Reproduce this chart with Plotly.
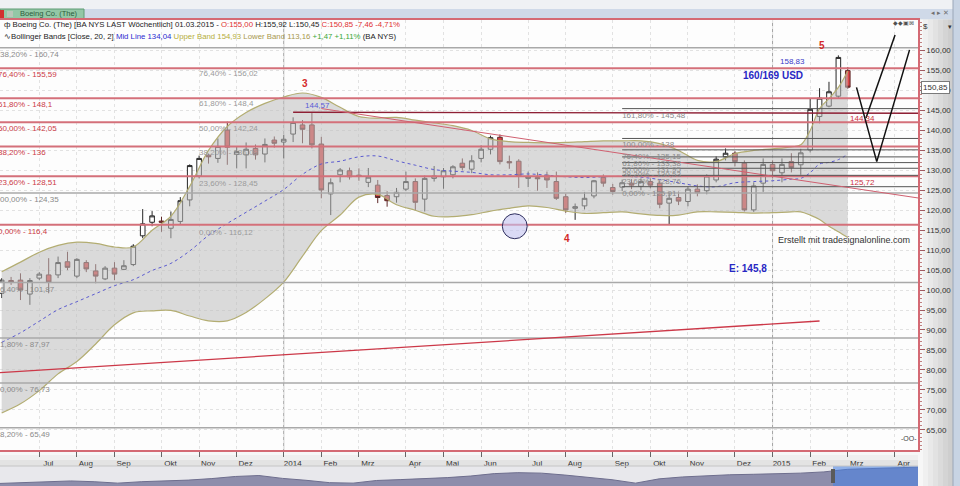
import plotly.graph_objects as go
import pandas as pd

# ---------------- data ----------------
first_week = "2013-06-09"
opens = [99.2, 102.4, 102.5, 99.0,
         103.0, 103.8, 103.8, 107.1, 103.5, 106.9, 104.8, 102.8, 105.5, 105.2,
         106.4, 113.6, 117.0, 117.3, 115.5, 117.2, 122.6, 128.6, 133.8, 133.0,
         140.1, 134.0, 133.9, 135.5, 134.1, 137.6, 137.1, 139.1, 141.4, 141.4,
         136.6, 124.1, 128.9, 129.9, 128.8, 127.0, 126.3, 123.7, 123.4, 125.3,
         127.2, 122.8, 128.0, 128.4, 128.9, 131.8, 130.3, 133.0, 135.3, 138.3,
         132.2, 132.3, 128.0, 128.2, 128.8, 127.2, 123.4, 120.5, 121.1, 123.6,
         128.2, 125.7, 125.8, 126.8, 126.0, 127.2, 126.8, 121.8, 123.2, 122.2,
         125.3, 124.9, 127.6, 133.4, 134.3, 131.8, 120.1, 126.8, 131.5, 129.4,
         132.2, 131.4, 135.1, 143.5, 146.1, 148.6, 155.00]
highs = [103.0, 103.3, 104.2, 103.0,
         104.5, 108.0, 108.4, 109.6, 108.0, 107.5, 106.5, 106.0, 107.0, 107.5,
         111.5, 120.3, 119.8, 118.4, 119.7, 123.3, 131.5, 133.7, 134.2, 138.0,
         142.2, 136.0, 137.0, 136.5, 138.0, 138.5, 138.9, 143.3, 142.6, 144.57,
         138.4, 128.0, 130.6, 130.7, 130.5, 130.6, 127.6, 124.8, 125.6, 129.7,
         128.0, 128.7, 131.1, 130.6, 131.3, 133.0, 133.8, 136.3, 138.7, 139.0,
         133.7, 132.8, 129.7, 129.5, 129.7, 129.7, 124.2, 121.7, 124.6, 127.6,
         129.0, 126.6, 127.7, 127.8, 128.0, 128.0, 127.5, 124.6, 124.7, 126.0,
         126.5, 129.0, 133.5, 135.5, 134.8, 132.5, 127.0, 133.0, 132.5, 133.0,
         134.3, 135.4, 148.1, 150.6, 152.2, 158.83, 155.92]
lows = [98.0, 101.3, 97.5, 96.3,
        102.5, 99.2, 103.0, 105.0, 103.0, 104.5, 101.7, 102.5, 102.5, 105.0,
        106.0, 113.0, 116.0, 114.6, 113.0, 116.5, 121.0, 128.0, 131.7, 131.9,
        131.4, 130.5, 130.5, 132.7, 132.0, 135.7, 133.0, 137.1, 136.8, 135.5,
        123.0, 118.8, 127.0, 127.7, 127.4, 125.8, 121.8, 120.9, 121.9, 124.8,
        120.0, 119.7, 127.2, 125.4, 128.0, 130.0, 129.3, 132.0, 134.0, 131.5,
        130.4, 125.6, 125.8, 124.9, 125.6, 122.6, 119.4, 117.6, 120.2, 123.0,
        125.9, 123.9, 124.8, 125.3, 125.0, 125.5, 120.5, 116.3, 121.3, 121.0,
        123.5, 124.0, 127.0, 132.5, 131.0, 119.7, 119.6, 124.6, 128.0, 127.0,
        129.5, 128.9, 134.5, 141.8, 145.8, 148.0, 150.45]
closes = [102.5, 102.0, 100.0, 102.4,
          104.0, 102.0, 106.9, 105.7, 107.7, 105.3, 103.5, 105.5, 104.0, 106.1,
          111.0, 116.6, 118.6, 117.0, 117.7, 122.4, 131.2, 133.0, 133.4, 136.0,
          135.8, 134.7, 135.3, 133.9, 136.5, 136.8, 137.8, 142.0, 140.3, 136.4,
          125.1, 126.9, 130.1, 128.4, 128.6, 128.3, 123.2, 122.4, 124.5, 127.2,
          122.0, 128.0, 128.6, 129.9, 130.9, 130.7, 132.4, 135.3, 138.2, 132.2,
          131.9, 128.6, 128.4, 127.9, 127.6, 123.0, 120.1, 120.9, 123.0, 127.4,
          126.8, 124.7, 126.9, 126.3, 127.2, 126.3, 121.5, 123.0, 122.3, 125.3,
          124.4, 128.6, 132.8, 134.3, 132.2, 120.1, 126.1, 131.5, 129.9, 131.5,
          130.7, 134.4, 145.3, 148.1, 149.7, 158.31, 150.85]
dates = pd.date_range(first_week, periods=len(closes), freq="7D")

# Bollinger bands (read every 2nd week, weekly at the end)
band_idx = list(range(0, 85, 2)) + [85, 86, 87, 88, 89, 90]
upper_band = [104.6, 107.0, 109.5, 111.2, 112.0, 111.7, 110.8, 110.8, 115.0, 118.5,
              126.0, 135.0, 141.0, 144.5, 146.8, 148.4, 149.4, 148.3, 145.8, 143.5,
              143.1, 143.3, 142.6, 141.9, 141.2, 140.0, 137.9, 137.2, 137.0, 136.9,
              137.0, 137.2, 137.4, 137.4, 137.4, 136.7, 135.0, 132.5, 132.2, 134.2,
              135.0, 135.4, 135.9, 136.4, 140.0, 145.5, 148.0, 150.8, 154.93]
lower_band = [69.2, 71.5, 74.8, 79.0, 82.1, 86.5, 91.3, 94.3, 94.8, 94.9,
              93.5, 92.3, 92.3, 94.4, 97.8, 102.0, 108.5, 114.9, 118.8, 123.3,
              124.0, 121.4, 120.0, 118.5, 118.4, 118.9, 119.8, 120.5, 121.1, 120.7,
              119.8, 119.2, 119.4, 119.6, 119.1, 118.7, 118.8, 119.6, 119.6, 119.5,
              119.3, 119.4, 119.6, 119.6, 118.8, 117.7, 116.0, 114.6, 113.16]
mid_line = [86.9, 89.3, 92.2, 95.1, 97.1, 99.1, 101.1, 102.6, 104.9, 106.7,
            109.8, 113.7, 116.7, 119.5, 122.3, 125.2, 129.0, 131.6, 132.3, 133.4,
            133.6, 132.4, 131.3, 130.2, 129.8, 129.5, 128.9, 128.9, 129.1, 128.8,
            128.4, 128.2, 128.4, 128.5, 128.3, 127.7, 126.9, 126.1, 125.9, 126.9,
            127.2, 127.4, 127.8, 128.0, 129.4, 131.6, 132.0, 132.7, 134.04]
band_dates = [dates[i] for i in band_idx]

month_ticks = ["2013-07-07", "2013-08-04", "2013-09-01", "2013-10-06", "2013-11-03",
               "2013-12-01", "2014-01-05", "2014-02-02", "2014-03-02", "2014-04-06",
               "2014-05-04", "2014-06-01", "2014-07-06", "2014-08-03", "2014-09-07",
               "2014-10-05", "2014-11-02", "2014-12-07", "2015-01-04", "2015-02-01",
               "2015-03-01", "2015-04-05"]
month_labels = ["Jul", "Aug", "Sep", "Okt", "Nov", "Dez", "2014", "Feb", "Mrz", "Apr",
                "Mai", "Jun", "Jul", "Aug", "Sep", "Okt", "Nov", "Dez", "2015", "Feb",
                "Mrz", "Apr"]
year_lines = ["2014-01-05", "2015-01-04"]
price_ticks = [65, 70, 75, 80, 85, 90, 95, 100, 105, 110, 115, 120, 125, 130, 135,
               140, 145, 150, 155, 160]

# Fibonacci sets
fib_red_vals = [155.59, 148.1, 142.05, 136.0, 128.51, 116.4]
fib_red_labels = ["76,40% - 155,59", "61,80% - 148,1", "50,00% - 142,05",
                  "38,20% - 136", "23,60% - 128,51", "0,00% - 116,4"]
fib_gray_vals = [160.74, 124.35, 101.87, 87.97, 76.73, 65.49]
fib_gray_labels = ["138,20% - 160,74", "100,00% - 124,35", "76,40% - 101,87",
                   "61,80% - 87,97", "50,00% - 76,73", "38,20% - 65,49"]
fib_mid_vals = [156.02, 148.4, 142.24, 136.08, 128.45, 116.12]
fib_mid_labels = ["76,40% - 156,02", "61,80% - 148,4", "50,00% - 142,24",
                  "38,20% - 136,08", "23,60% - 128,45", "0,00% - 116,12"]
fib_right_vals = [145.48, 138.0, 135.15, 133.38, 131.95, 130.53, 128.76, 125.91]
fib_right_labels = ["161,80% - 145,48", "100,00% - 138", "76,40% - 135,15",
                    "61,80% - 133,38", "50,00% - 131,95", "38,20% - 130,53",
                    "23,60% - 128,76", "0,00% - 125,91"]

# drawn trend lines (date, price)
trend_high_x = ["2014-01-12", "2015-04-30"]
trend_high_y = [144.57, 144.31]
trend_down_x = ["2014-02-02", "2015-04-30"]
trend_down_y = [145.5, 122.7]
trend_low_x = ["2013-06-01", "2015-02-08"]
trend_low_y = [79.15, 92.25]
scenario_a_x = ["2015-03-07 12:00", "2015-03-22 14:00", "2015-04-16"]
scenario_a_y = [150.8, 132.2, 160.2]
scenario_b_x = ["2015-03-14 14:00", "2015-04-05 05:00"]
scenario_b_y = [143.1, 163.9]

# navigator (overview) series
nav_vals = [2.7, 3.4, 4.3, 5.3, 4.5, 3.0, 4.5, 5.2, 6.2, 7.8,
            10.0, 11.0, 8.0, 6.0, 3.5, 3.0, 5.8, 6.7, 7.4, 8.8,
            10.5, 13.0, 14.0, 13.5, 11.5, 9.4, 6.6, 3.0, 7.5, 9.5,
            11.0, 11.8, 12.3, 12.6, 13.5, 14.8, 17.5, 18.3, 19.0, 19.8]

# ---------------- styling ----------------
FONT = "Liberation Sans, Arial, sans-serif"
W, H = 960, 486
TOP, RIGHT = 20, 42
PW = W - RIGHT
X0, X1 = "2013-06-07 18:00", "2015-04-22 07:00"
Y0, Y1 = 59.92, 167.69
XS, XE = "2013-05-01", "2015-05-20"
LBL_A_X = "2013-06-06 06:00"
LBL_B_X = "2013-06-04 10:00"
LBL_MID_X = "2013-11-03"
LBL_R_X = "2014-09-14"

RED_LINE = "#d4707a"
GRAY_LINE = "#a9a9a9"
BAND_COL = "#b3ad72"


def py(Y):
    return (H - Y) / (H - TOP)


def px(X):
    return X / PW


def hlines(vals, xs, xe):
    xx, yy = [], []
    for v in vals:
        xx += [xs, xe, None]
        yy += [v, v, None]
    return xx, yy


fig = go.Figure()

# Bollinger bands
fig.add_trace(go.Scatter(x=band_dates, y=lower_band, mode="lines",
                         line=dict(color=BAND_COL, width=1.2, shape="spline"),
                         hoverinfo="skip", showlegend=False))
fig.add_trace(go.Scatter(x=band_dates, y=upper_band, mode="lines",
                         line=dict(color=BAND_COL, width=1.2, shape="spline"),
                         fill="tonexty", fillcolor="rgba(190,190,190,0.55)",
                         hoverinfo="skip", showlegend=False))
fig.add_trace(go.Scatter(x=band_dates, y=mid_line, mode="lines",
                         line=dict(color="#5b5bd0", width=1, dash="dot", shape="spline"),
                         hoverinfo="skip", showlegend=False))

# Fib lines
gx, gy = hlines(fib_gray_vals, XS, XE)
fig.add_trace(go.Scatter(x=gx, y=gy, mode="lines", line=dict(color=GRAY_LINE, width=1.5),
                         hoverinfo="skip", showlegend=False))
rx, ry = hlines(fib_red_vals, XS, XE)
fig.add_trace(go.Scatter(x=rx, y=ry, mode="lines", line=dict(color=RED_LINE, width=2),
                         hoverinfo="skip", showlegend=False))
cx, cy = hlines(fib_right_vals, LBL_R_X, XE)
fig.add_trace(go.Scatter(x=cx, y=cy, mode="lines", line=dict(color="#555555", width=1),
                         hoverinfo="skip", showlegend=False))

# trend lines
fig.add_trace(go.Scatter(x=trend_high_x, y=trend_high_y, mode="lines",
                         line=dict(color="#8e2035", width=1.3), hoverinfo="skip", showlegend=False))
fig.add_trace(go.Scatter(x=trend_down_x, y=trend_down_y, mode="lines",
                         line=dict(color="#d06070", width=1), hoverinfo="skip", showlegend=False))
fig.add_trace(go.Scatter(x=trend_low_x, y=trend_low_y, mode="lines",
                         line=dict(color="#cc3848", width=1.3), hoverinfo="skip", showlegend=False))


def label_trace(x, vals, texts, color):
    return go.Scatter(x=[x] * len(vals), y=[v - 0.75 for v in vals], text=texts,
                      mode="text", textposition="bottom right",
                      textfont=dict(family=FONT, size=8, color=color),
                      hoverinfo="skip", showlegend=False)


fig.add_trace(label_trace(LBL_B_X, fib_gray_vals, fib_gray_labels, "#8a8a8a"))
fig.add_trace(label_trace(LBL_A_X, fib_red_vals, fib_red_labels, "#cc3a46"))
fig.add_trace(label_trace(LBL_MID_X, fib_mid_vals, fib_mid_labels, "#9a9a9a"))
fig.add_trace(label_trace(LBL_R_X, fib_right_vals, fib_right_labels, "#8a8a8a"))

# candles
fig.add_trace(go.Candlestick(
    x=dates, open=opens, high=highs, low=lows, close=closes,
    increasing=dict(fillcolor="#ffffff", line=dict(color="#262626", width=1)),
    decreasing=dict(fillcolor="#dd4646", line=dict(color="#5e2828", width=1)),
    hoverinfo="skip", showlegend=False))

# scenario zig-zags
fig.add_trace(go.Scatter(x=scenario_a_x, y=scenario_a_y, mode="lines",
                         line=dict(color="#111111", width=1.5), hoverinfo="skip", showlegend=False))
fig.add_trace(go.Scatter(x=scenario_b_x, y=scenario_b_y, mode="lines",
                         line=dict(color="#111111", width=1.5), hoverinfo="skip", showlegend=False))

# navigator
fig.add_trace(go.Scatter(x=list(range(len(nav_vals))), y=nav_vals, mode="lines",
                         line=dict(color="#6e6e8e", width=1), fill="tozeroy",
                         fillcolor="#8d8dab", xaxis="x2", yaxis="y2",
                         hoverinfo="skip", showlegend=False))

shapes = []


def prect(x0, x1, y0, y1, color, layer="below", line=None):
    shapes.append(dict(type="rect", xref="paper", yref="paper",
                       x0=px(x0), x1=px(x1), y0=py(y1), y1=py(y0),
                       fillcolor=color, line=line or dict(width=0), layer=layer))


# top strip
prect(0, W, 0, 9, "#eff1f4")
prect(0, W, 9, 19.5, "#cfd9e8")
prect(0, 84, 9, 19, "#93c7a6", line=dict(color="#5f9c74", width=1))
prect(0, 4, 10, 18, "#d23030")
prect(7, 13, 11, 17, "#b9c7b9")
# right panel gradient
grad = ["#f7f7f7", "#f0f0f0", "#e9e9e9", "#e2e2e2", "#dbdbdb", "#d4d4d4", "#cecece"]
for i, c in enumerate(grad):
    prect(PW + i * 5, PW + (i + 1) * 5, 19.5, H, c)
prect(953, W, 0, H, "#c8d4e4")
shapes.append(dict(type="line", xref="paper", yref="paper", x0=px(953), x1=px(953),
                   y0=py(H), y1=py(0), line=dict(color="#9aa6b8", width=1)))
# x-axis band
prect(0, PW, 450, 455, "#f7f7f7")
prect(0, PW, 455, 460, "#efefef")
prect(0, PW, 460, 466, "#e3e3e3")
# navigator background
prect(0, PW, 466, H, "#e8e8ec")
prect(833, PW, 466, H, "rgba(70,130,232,0.55)", layer="above")
prect(831, 835, 469, 483, "#5a5a5a", layer="above")
shapes.append(dict(type="line", xref="paper", yref="paper", x0=0, x1=px(PW),
                   y0=py(466), y1=py(466), line=dict(color="#c4c4c4", width=1)))

# year separators
for d in year_lines:
    shapes.append(dict(type="line", xref="x", yref="paper", x0=d, x1=d,
                       y0=py(450), y1=1, line=dict(color="#a3a3a3", width=1), layer="below"))

# circle marker
shapes.append(dict(type="circle", xref="x", yref="y",
                   x0="2014-06-16 19:00", x1="2014-07-05 07:00", y0=112.87, y1=119.13,
                   fillcolor="rgba(195,195,240,0.6)", line=dict(color="#2e2e5e", width=1),
                   layer="above"))

ann = []


def note(x, y, text, color, size=8, bold=False, xanchor="center", xref="x", yref="y",
         yanchor="middle", **kw):
    if bold:
        text = "<b>" + text + "</b>"
    d = dict(x=x, y=y, xref=xref, yref=yref, text=text, showarrow=False,
             font=dict(family=FONT, size=size, color=color),
             xanchor=xanchor, yanchor=yanchor)
    d.update(kw)
    ann.append(d)


note("2014-01-21", 151.9, "3", "#d42a2a", size=10, bold=True)
note("2014-08-04", 113.0, "4", "#d42a2a", size=10, bold=True)
note("2015-02-10", 161.4, "5", "#d42a2a", size=10, bold=True)
note("2014-01-19", 146.2, "144,57", "#5b5bd6", xanchor="left")
note("2015-01-19", 157.4, "158,83", "#3a3ac8")
note("2015-01-04", 153.9, "160/169 USD", "#2727c4", size=10, bold=True)
note("2014-12-17", 105.5, "E: 145,8", "#2727c4", size=10, bold=True)
note("2015-04-18", 112.5, "Erstellt mit tradesignalonline.com", "#333333", size=9,
     xanchor="right")
note("2015-03-01", 143.1, "144,34", "#cc3040", xanchor="left")
note("2015-03-01", 126.9, "125,72", "#cc3040", xanchor="left")

# header
hdr1 = ("ф Boeing Co. (The) [BA NYS LAST Wöchentlich] 01.03.2015 - "
        "<span style='color:#e03030'>O:155,00</span> H:155,92 L:150,45 "
        "<span style='color:#e03030'>C:150,85 -7,46 -4,71%</span>")
hdr2 = ("∿Bollinger Bands [Close, 20, 2] <span style='color:#2b2bd0'>Mid Line 134,04</span> "
        "<span style='color:#b5ad3a'>Upper Band 154,93</span> "
        "<span style='color:#a8984e'>Lower Band 113,16</span> "
        "<span style='color:#3aa83a'>+1,47 +1,11%</span> (BA NYS)")
note(px(2), py(25), hdr1, "#222222", size=7.8, xanchor="left", xref="paper", yref="paper")
note(px(2), py(36), hdr2, "#222222", size=7.8, xanchor="left", xref="paper", yref="paper")
note(px(18), py(14), "Boeing Co. (The)", "#2b5c3c", size=7.5, xanchor="left",
     xref="paper", yref="paper")
note(px(940), py(12), "◂ ▸ ✕", "#707070", size=7, xref="paper", yref="paper")
note(px(903), py(23), "◆◆▣⊠", "#505050", size=6, xref="paper", yref="paper")
note(px(921), py(26), "$", "#333333", size=8, xanchor="left", xref="paper", yref="paper")
note(px(950), py(26), "▾", "#333333", size=7, xref="paper", yref="paper")
note(px(909), py(438), "-OO-", "#444444", size=7, xref="paper", yref="paper")
note(px(921), 150.85, "150,85", "#333333", size=8, xanchor="left", xref="paper", yref="y",
     bgcolor="#ffffff", bordercolor="#7a7a7a", borderwidth=1, borderpad=1)

fig.update_layout(
    width=W, height=H,
    margin=dict(l=0, r=RIGHT, t=TOP, b=0, pad=0, autoexpand=False),
    paper_bgcolor="#eeeeee", plot_bgcolor="#fdfdfd",
    font=dict(family=FONT, size=8, color="#333333"),
    separators=",.",
    showlegend=False, hovermode=False,
    shapes=shapes, annotations=ann,
    xaxis=dict(type="date", range=[X0, X1], domain=[0, 1], anchor="y", automargin=False,
               tickmode="array", tickvals=month_ticks, ticktext=month_labels,
               ticks="outside", ticklen=5, tickcolor="#666666", ticklabelshift=9,
               tickfont=dict(family=FONT, size=8, color="#333333"),
               showgrid=True, gridcolor="#e2e2e2", griddash="dot", gridwidth=1,
               showline=True, linecolor="#d46a74", linewidth=1.5, mirror=True,
               zeroline=False, rangeslider=dict(visible=False), fixedrange=True),
    yaxis=dict(domain=[py(450), 1], range=[Y0, Y1], side="right", anchor="x",
               automargin=False,
               tickmode="array", tickvals=price_ticks, tickformat=".2f",
               ticks="outside", ticklen=5, tickcolor="#a05a60",
               minor=dict(tickmode="linear", tick0=0, dtick=1, ticks="outside",
                          ticklen=2, tickcolor="#c08080", showgrid=False),
               tickfont=dict(family=FONT, size=8, color="#333333"),
               showgrid=True, gridcolor="#e2e2e2", griddash="dot", gridwidth=1,
               showline=True, linecolor="#d46a74", linewidth=1.5,
               zeroline=False, fixedrange=True),
    xaxis2=dict(domain=[0, 1], anchor="y2", range=[0, len(nav_vals) - 1],
                visible=False, fixedrange=True, automargin=False),
    yaxis2=dict(domain=[0, py(466)], anchor="x2", range=[0, 21],
                visible=False, fixedrange=True, automargin=False),
)

fig.write_html("out.html", config={"displayModeBar": False},
               post_script="document.body.style.margin='0px';"
                           "document.body.style.overflow='hidden';")
